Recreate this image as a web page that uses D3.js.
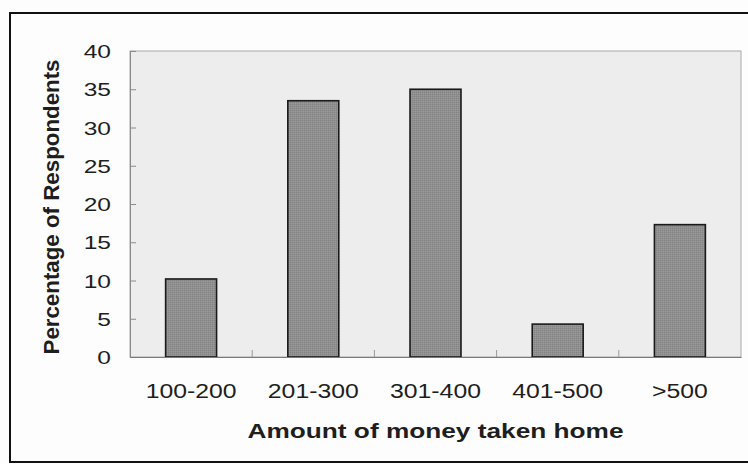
<!DOCTYPE html>
<html>
<head>
<meta charset="utf-8">
<script src="https://cdn.jsdelivr.net/npm/d3@7/dist/d3.min.js"></script>
<style>
  html, body { margin: 0; padding: 0; background: #fdfdfd; }
  svg { display: block; }
  text { font-family: "Liberation Sans", Arial, sans-serif; fill: #1e1e1e; }
</style>
</head>
<body>
<svg id="chart" width="748" height="464"></svg>
<script>
// Take-home money survey: share of respondents per amount band
const categories = ["100-200", "201-300", "301-400", "401-500", ">500"];
const percentages = [10.2, 33.5, 35.0, 4.3, 17.3];
const yTicks = [0, 5, 10, 15, 20, 25, 30, 35, 40];
const xTitle = "Amount of money taken home";
const yTitle = "Percentage of Respondents";

const svg = d3.select("#chart");
const plot = { left: 130, right: 741, top: 51, bottom: 357 };

// outer frame around the whole figure
svg.append("rect")
  .attr("x", 10).attr("y", 13)
  .attr("width", 760).attr("height", 449)
  .attr("fill", "#fdfdfd")
  .attr("stroke", "#111").attr("stroke-width", 2);

// stippled fill used for the bars
const defs = svg.append("defs");
const pat = defs.append("pattern")
  .attr("id", "stipple")
  .attr("width", 2).attr("height", 2)
  .attr("patternUnits", "userSpaceOnUse");
pat.append("rect").attr("width", 2).attr("height", 2).attr("fill", "#8f8f8f");
pat.append("rect").attr("width", 1).attr("height", 1).attr("fill", "#838383");
pat.append("rect").attr("x", 1).attr("y", 1).attr("width", 1).attr("height", 1).attr("fill", "#9a9a9a");

const x = d3.scaleBand()
  .domain(categories)
  .range([plot.left, plot.right])
  .paddingInner(0.583)
  .paddingOuter(0.2915);

const y = d3.scaleLinear()
  .domain([0, 40])
  .range([plot.bottom, plot.top]);

// plot area background
svg.append("rect")
  .attr("x", plot.left).attr("y", plot.top)
  .attr("width", plot.right - plot.left)
  .attr("height", plot.bottom - plot.top)
  .attr("fill", "#ededed")
  .attr("stroke", "#a8a8a8").attr("stroke-width", 1);

// bars
svg.append("g")
  .selectAll("rect")
  .data(categories.map((c, i) => ({ c, v: percentages[i] })))
  .join("rect")
  .attr("x", d => x(d.c))
  .attr("y", d => y(d.v))
  .attr("width", x.bandwidth())
  .attr("height", d => y(0) - y(d.v))
  .attr("fill", "url(#stipple)")
  .attr("stroke", "#1a1a1a")
  .attr("stroke-width", 1.6);

// y axis: small inward ticks, stretched numerals to the left
const yAxis = svg.append("g")
  .attr("transform", `translate(${plot.left},0)`)
  .call(d3.axisLeft(y).tickValues(yTicks).tickSize(-6).tickPadding(0));
yAxis.select(".domain").attr("stroke", "#8a8a8a");
yAxis.selectAll(".tick line").attr("stroke", "#8a8a8a");
yAxis.selectAll(".tick text")
  .attr("font-size", 18.6)
  .attr("x", -19 / 1.32)
  .attr("dy", "0.36em")
  .attr("transform", "scale(1.32,1)")
  .attr("fill", "#1e1e1e");

// x axis: ticks on the category boundaries, labels centred under bars
const xAxis = svg.append("g")
  .attr("transform", `translate(0,${plot.bottom})`)
  .call(d3.axisBottom(x).tickSize(0));
xAxis.select(".domain").attr("stroke", "#7a7a7a").attr("stroke-width", 1.2);
xAxis.selectAll(".tick text")
  .attr("font-size", 21)
  .attr("y", 41)
  .attr("dy", 0)
  .attr("transform", "scale(1.18,1)")
  .attr("fill", "#1e1e1e");

const step = x.step();
const boundaries = categories.slice(1).map(c => x(c) - step * x.paddingInner() / 2);
svg.append("g")
  .selectAll("line")
  .data(boundaries)
  .join("line")
  .attr("x1", d => d).attr("x2", d => d)
  .attr("y1", plot.bottom - 7).attr("y2", plot.bottom)
  .attr("stroke", "#9a9a9a").attr("stroke-width", 1);

// axis titles
svg.append("text")
  .attr("x", (plot.left + plot.right) / 2)
  .attr("y", 438)
  .attr("text-anchor", "middle")
  .attr("font-size", 21)
  .attr("font-weight", "bold")
  .attr("textLength", 376)
  .attr("lengthAdjust", "spacingAndGlyphs")
  .text(xTitle);

svg.append("text")
  .attr("transform", "translate(59,207) rotate(-90)")
  .attr("text-anchor", "middle")
  .attr("font-size", 22)
  .attr("font-weight", "bold")
  .attr("textLength", 295)
  .attr("lengthAdjust", "spacingAndGlyphs")
  .text(yTitle);
</script>
</body>
</html>
